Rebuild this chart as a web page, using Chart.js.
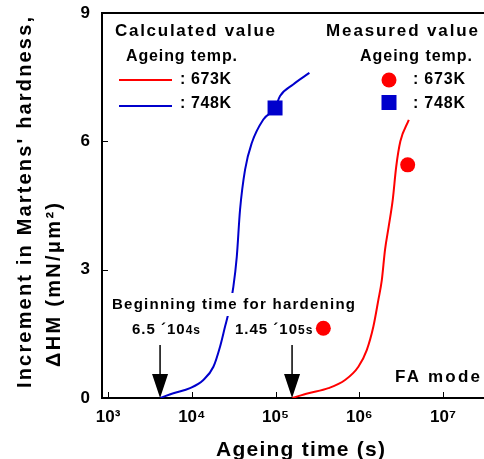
<!DOCTYPE html>
<html>
<head>
<meta charset="utf-8">
<script src="https://cdn.jsdelivr.net/npm/chart.js@4"></script>
<style>
  html, body { margin: 0; padding: 0; background: #fff; }
  #wrap { width: 484px; height: 459px; }
</style>
</head>
<body>
<div id="wrap"><canvas id="chart" width="484" height="459"></canvas></div>
<script>
// ---------- Data ----------
// Calculated curves: ageing time (s) vs increment in Martens' hardness
const blueTime = [4180, 6030, 9530, 13740, 18110, 21730, 24950, 27350, 31330, 34430, 37670, 43250, 52000, 71450, 98600, 113200, 162200, 253500];
const blueHM   = [0, 0.11, 0.23, 0.42, 0.73, 1.20, 1.67, 1.98, 2.60, 3.30, 4.40, 5.34, 5.96, 6.51, 6.78, 7.06, 7.33, 7.60];

const redTime = [157400, 246600, 427600, 676100, 974700, 1227000, 1472000, 1690000, 1854000, 2028000, 2239000, 2512000, 2754000, 3090000, 3900000];
const redHM   = [0, 0.11, 0.23, 0.42, 0.73, 1.12, 1.67, 2.30, 2.75, 3.47, 4.0, 4.65, 5.40, 6.0, 6.5];

// Measured values
const measRedTime  = [372000, 3780000];
const measRedHM    = [1.63, 5.45];
const measBlueTime = [98600];
const measBlueHM   = [6.78];

// Beginning time for hardening (arrow positions)
const onsetTime = [4180, 157400];

// Axes
const xTicks = [1e3, 1e4, 1e5, 1e6, 1e7];
const xTickLabels = ["10³", "10⁴", "10⁵", "10⁶", "10⁷"];
const yTicks = [0, 3, 6, 9];

const RED = "#ff0000";
const BLUE = "#0000cc";
const FONT = '"Liberation Sans", Arial, sans-serif';

const pts = (xs, ys) => xs.map((x, i) => ({ x: x, y: ys[i] }));

// ---------- Text helpers ----------
// draws bold text stretched (by letter spacing) between x1 and x2
function fitText(ctx, str, x1, x2, cy, size, color) {
  ctx.font = `bold ${size}px ${FONT}`;
  ctx.letterSpacing = "0px";
  const w = ctx.measureText(str).width;
  const n = [...str].length;
  const sp = n > 1 ? (x2 - x1 - w) / (n - 1) : 0;
  ctx.letterSpacing = sp + "px";
  ctx.textAlign = "left";
  ctx.textBaseline = "middle";
  ctx.fillStyle = color || "#000";
  ctx.fillText(str, x1, cy);
  ctx.letterSpacing = "0px";
}

function partsText(ctx, parts, x, cy, sp) {
  ctx.textAlign = "left";
  ctx.textBaseline = "alphabetic";
  ctx.fillStyle = "#000";
  ctx.letterSpacing = sp + "px";
  parts.forEach(p => {
    ctx.font = `bold ${p.size}px ${FONT}`;
    ctx.fillText(p.t, x, cy);
    x += ctx.measureText(p.t).width;
  });
  ctx.letterSpacing = "0px";
}

// ---------- Plugin: frame, inward ticks, legend, notes ----------
const decor = {
  id: "decor",
  afterDatasetsDraw(chart) {
    const ctx = chart.ctx;
    const a = chart.chartArea;
    const xs = chart.scales.x, ys = chart.scales.y;
    ctx.save();

    // top frame line
    ctx.strokeStyle = "#000";
    ctx.lineWidth = 2;
    ctx.beginPath();
    ctx.moveTo(a.left - 1, a.top);
    ctx.lineTo(a.right, a.top);
    ctx.stroke();

    // inward ticks
    ctx.lineWidth = 1;
    ctx.beginPath();
    xTicks.forEach(v => {
      const px = Math.round(xs.getPixelForValue(v)) + 0.5;
      ctx.moveTo(px, a.bottom);
      ctx.lineTo(px, a.bottom - 6);
    });
    yTicks.slice(1, 3).forEach(v => {
      const py = Math.round(ys.getPixelForValue(v)) + 0.5;
      ctx.moveTo(a.left, py);
      ctx.lineTo(a.left + 6, py);
    });
    ctx.stroke();

    // legend: calculated value
    fitText(ctx, "Calculated value", 115, 275, 31, 17);
    fitText(ctx, "Ageing temp.", 126, 237, 57, 16);
    ctx.lineWidth = 2;
    ctx.strokeStyle = RED;
    ctx.beginPath(); ctx.moveTo(119, 80); ctx.lineTo(172, 80); ctx.stroke();
    ctx.strokeStyle = BLUE;
    ctx.beginPath(); ctx.moveTo(119, 106); ctx.lineTo(172, 106); ctx.stroke();
    fitText(ctx, ": 673K", 180, 231, 80, 16);
    fitText(ctx, ": 748K", 180, 231, 104, 16);

    // legend: measured value
    fitText(ctx, "Measured value", 326, 478, 31, 17);
    fitText(ctx, "Ageing temp.", 360, 472, 57, 16);
    ctx.fillStyle = RED;
    ctx.beginPath(); ctx.arc(389, 80, 7.5, 0, Math.PI * 2); ctx.fill();
    ctx.fillStyle = BLUE;
    ctx.fillRect(381.5, 95, 15, 15);
    fitText(ctx, ": 673K", 413, 465, 80, 16);
    fitText(ctx, ": 748K", 413, 465, 104, 16);

    // note: beginning time for hardening
    ctx.fillStyle = "#fff";
    ctx.fillRect(108, 293, 258, 23);
    fitText(ctx, "Beginning time for hardening", 112, 355, 305, 15);
    partsText(ctx, [{ t: "6.5 ´10", size: 15 }, { t: "4s", size: 12 }], 132, 334, 1);
    partsText(ctx, [{ t: "1.45 ´10", size: 15 }, { t: "5s", size: 12 }], 235, 334, 1);

    // arrows at onset times
    ctx.strokeStyle = "#000";
    ctx.fillStyle = "#000";
    ctx.lineWidth = 1.5;
    onsetTime.forEach(t => {
      const px = xs.getPixelForValue(t);
      ctx.beginPath();
      ctx.moveTo(px, 345);
      ctx.lineTo(px, 376);
      ctx.stroke();
      ctx.beginPath();
      ctx.moveTo(px - 8, 374);
      ctx.lineTo(px + 8, 374);
      ctx.lineTo(px, a.bottom);
      ctx.closePath();
      ctx.fill();
    });

    fitText(ctx, "FA mode", 395, 480, 377, 17);

    // axis titles
    fitText(ctx, "Ageing time (s)", 216, 385, 450, 21);
    ctx.save();
    ctx.translate(25, 388);
    ctx.rotate(-Math.PI / 2);
    fitText(ctx, "Increment in Martens' hardness,", 0, 371, 0, 20);
    ctx.restore();
    ctx.save();
    ctx.translate(54, 367);
    ctx.rotate(-Math.PI / 2);
    fitText(ctx, "ΔHM (mN/μm²)", 0, 164, 0, 20);
    ctx.restore();

    ctx.restore();
  }
};

// ---------- Chart ----------
new Chart(document.getElementById("chart"), {
  type: "scatter",
  data: {
    datasets: [
      {
        label: "Measured 673K",
        data: pts(measRedTime, measRedHM),
        backgroundColor: RED,
        borderWidth: 0,
        pointStyle: "circle",
        pointRadius: 7.5,
        showLine: false
      },
      {
        label: "Measured 748K",
        data: pts(measBlueTime, measBlueHM),
        backgroundColor: BLUE,
        borderWidth: 0,
        pointStyle: "rect",
        pointRadius: 10.6,
        showLine: false
      },
      {
        label: "Calculated 673K",
        data: pts(redTime, redHM),
        borderColor: RED,
        borderWidth: 2,
        pointRadius: 0,
        showLine: true,
        cubicInterpolationMode: "monotone"
      },
      {
        label: "Calculated 748K",
        data: pts(blueTime, blueHM),
        borderColor: BLUE,
        borderWidth: 2,
        pointRadius: 0,
        showLine: true,
        cubicInterpolationMode: "monotone"
      }
    ]
  },
  options: {
    responsive: false,
    animation: false,
    layout: { autoPadding: false, padding: { top: 13, left: 0, right: 0, bottom: 0 } },
    plugins: { legend: { display: false }, tooltip: { enabled: false } },
    scales: {
      x: {
        type: "logarithmic",
        min: 847,
        max: 30800000,
        afterBuildTicks: axis => { axis.ticks = xTicks.map(v => ({ value: v })); },
        afterFit: axis => {
          axis.height = 61;
          axis.paddingLeft = 0; axis.paddingRight = 0;
        },
        ticks: {
          autoSkip: false,
          maxRotation: 0,
          padding: 9,
          color: "#000",
          font: { family: FONT, size: 17, weight: "bold" },
          callback: (v, i) => xTickLabels[i]
        },
        grid: { display: true, drawOnChartArea: false, drawTicks: false },
        border: { display: true, color: "#000", width: 2 }
      },
      y: {
        min: 0,
        max: 9,
        afterBuildTicks: axis => { axis.ticks = yTicks.map(v => ({ value: v })); },
        afterFit: axis => {
          axis.width = 102;
          axis.paddingTop = 0; axis.paddingBottom = 0;
        },
        ticks: {
          padding: 12,
          color: "#000",
          font: { family: FONT, size: 17, weight: "bold" }
        },
        grid: { display: true, drawOnChartArea: false, drawTicks: false },
        border: { display: true, color: "#000", width: 2 }
      }
    }
  },
  plugins: [decor]
});
</script>
</body>
</html>
